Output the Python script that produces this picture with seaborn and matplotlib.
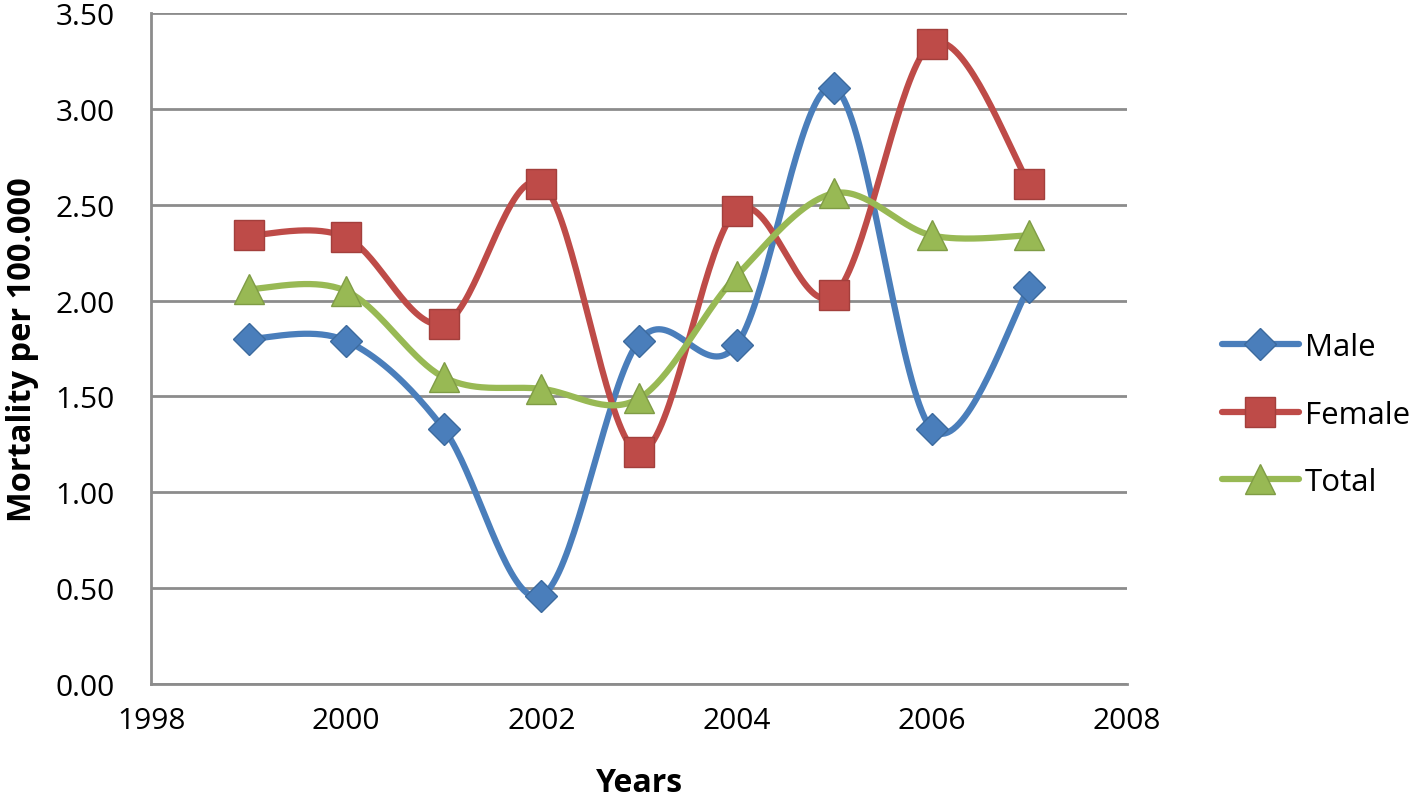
import numpy as np
import pandas as pd
import matplotlib
matplotlib.use("Agg")
import matplotlib.pyplot as plt
import seaborn as sns
from matplotlib.lines import Line2D

years = [1999, 2000, 2001, 2002, 2003, 2004, 2005, 2006, 2007]
male = [1.80, 1.79, 1.33, 0.46, 1.79, 1.77, 3.11, 1.33, 2.07]
female = [2.34, 2.33, 1.88, 2.61, 1.21, 2.47, 2.03, 3.34, 2.61]
total = [2.06, 2.05, 1.60, 1.54, 1.49, 2.13, 2.56, 2.34, 2.34]
series_names = ["Male", "Female", "Total"]
y_ticks = [0.0, 0.5, 1.0, 1.5, 2.0, 2.5, 3.0, 3.5]
x_ticks = [1998, 2000, 2002, 2004, 2006, 2008]

sns.set_theme(style="white")
plt.rcParams['font.family'] = ['Open Sans', 'DejaVu Sans']
plt.rcParams['text.color'] = 'black'
plt.rcParams['axes.labelcolor'] = 'black'

colors = ["#4A7EBB", "#BE4B48", "#98B954"]
edge_colors = ["#3C6A9E", "#A33F3C", "#7F9C45"]
markers = ["D", "s", "^"]
msizes = [16, 21, 22]


def smooth(xs, ys, n=40):
    # Bezier smoothing similar to spreadsheet "smoothed line"
    xs = np.asarray(xs, float)
    ys = np.asarray(ys, float)
    px = np.concatenate([[xs[0]], xs, [xs[-1]]])
    py = np.concatenate([[ys[0]], ys, [ys[-1]]])
    outx, outy = [], []
    t = np.linspace(0, 1, n)
    for i in range(1, len(px) - 2):
        p0 = np.array([px[i], py[i]])
        p3 = np.array([px[i + 1], py[i + 1]])
        c1 = p0 + (np.array([px[i + 1], py[i + 1]]) - np.array([px[i - 1], py[i - 1]])) / 6
        c2 = p3 - (np.array([px[i + 2], py[i + 2]]) - np.array([px[i], py[i]])) / 6
        bx = (1 - t) ** 3 * p0[0] + 3 * (1 - t) ** 2 * t * c1[0] + 3 * (1 - t) * t ** 2 * c2[0] + t ** 3 * p3[0]
        by = (1 - t) ** 3 * p0[1] + 3 * (1 - t) ** 2 * t * c1[1] + 3 * (1 - t) * t ** 2 * c2[1] + t ** 3 * p3[1]
        outx.extend(bx)
        outy.extend(by)
    return np.array(outx), np.array(outy)


fig = plt.figure(figsize=(14.18, 8.04), dpi=100)
ax = fig.add_axes([0.1065, 0.148, 0.6883, 0.8345])

handles = []
for name, vals, c, ec, m, ms in zip(series_names, [male, female, total], colors, edge_colors, markers, msizes):
    sx, sy = smooth(years, vals)
    df = pd.DataFrame({"x": sx, "y": sy})
    sns.lineplot(data=df, x="x", y="y", sort=False, estimator=None, ax=ax,
                 color=c, linewidth=4.5, legend=False)
    ax.plot(years, vals, linestyle="none", marker=m, markersize=ms,
            markerfacecolor=c, markeredgecolor=ec, markeredgewidth=1)
    handles.append(Line2D([0], [0], color=c, linewidth=4.5, marker=m, markersize=ms,
                          markerfacecolor=c, markeredgecolor=ec, label=name))

ax.set_xlim(1998, 2008)
ax.set_ylim(0, 3.5)
ax.set_yticks(y_ticks)
ax.set_yticklabels([f"{v:.2f}" for v in y_ticks])
ax.set_xticks(x_ticks)
ax.set_xticklabels([str(v) for v in x_ticks])
ax.tick_params(axis="both", labelsize=21.5, length=0, colors="black")
ax.tick_params(axis="y", pad=26)
ax.tick_params(axis="x", pad=16)
ax.yaxis.grid(True, color="#8C8C8C", linewidth=2)
ax.xaxis.grid(False)
ax.set_axisbelow(True)
for s in ["top", "right"]:
    ax.spines[s].set_visible(False)
for s in ["left", "bottom"]:
    ax.spines[s].set_color("#8C8C8C")
    ax.spines[s].set_linewidth(2)

ax.set_xlabel("Years", fontsize=23, fontweight="bold", labelpad=22, color="black")
ax.set_ylabel("Mortality per 100.000", fontsize=23.5, fontweight="bold", labelpad=12, color="black")

leg = fig.legend(handles=handles, loc="center left", bbox_to_anchor=(0.842, 0.483),
                 frameon=False, fontsize=22.5, handlelength=2.45, handletextpad=0.2,
                 labelspacing=1.2)

fig.savefig("out.png", dpi=100)
